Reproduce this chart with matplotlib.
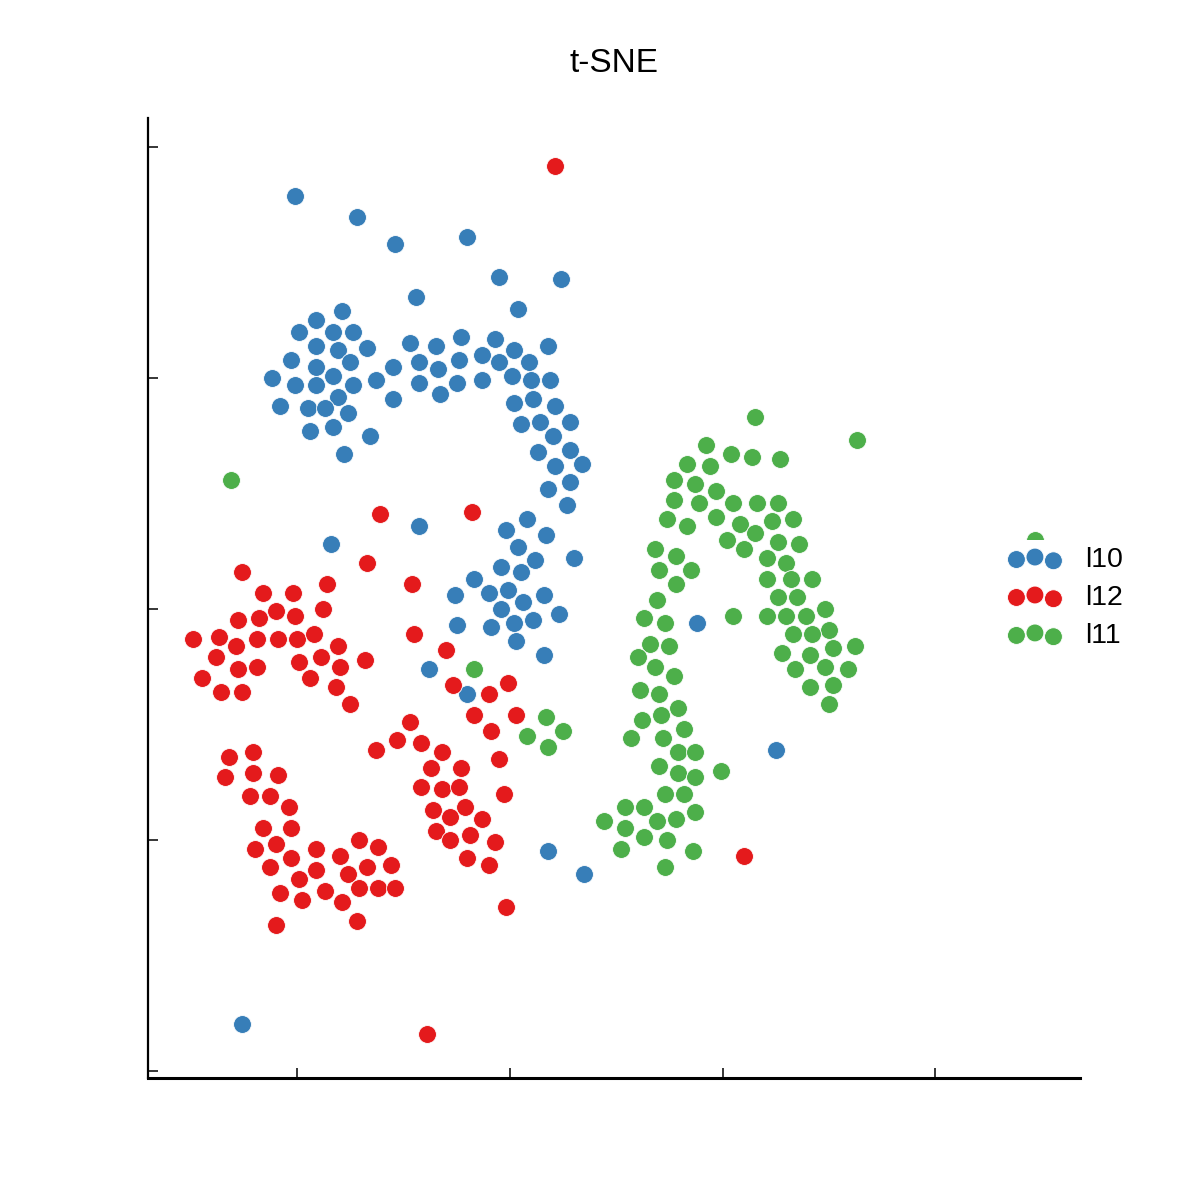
import matplotlib
matplotlib.use("Agg")
import matplotlib.pyplot as plt

# t-SNE embedding coordinates, one group per cluster label
l10_x = [-10.1, -7.2, -5.4, -2.0, -0.5, 2.4, -4.4, 0.4, -7.9, -9.1, -9.9, -8.3, -7.4, -9.1, -8.1,
         -6.7, -10.3, -9.1, -7.5, -5.5, -11.2, -10.1, -9.1, -8.3, -7.4, -6.3, -5.5, -8.1, -10.8, -9.5,
         -8.7, -7.6, -9.4, -8.3, -6.6, -7.8, -4.7, -3.5, -2.3, -0.7, 1.8, -4.3, -3.4, -2.4, -1.3,
         -0.5, 0.2, 0.9, -4.3, -3.3, -2.5, -1.3, 0.1, 1.0, 1.9, 0.2, 1.1, 2.1, 0.5, 1.4,
         2.8, 2.0, 1.3, 2.8, 2.1, 3.4, 2.8, 1.8, 2.7, -4.3, 0.8, -0.2, 1.7, 0.4, 3.0,
         1.2, -0.4, 0.5, -1.7, -2.6, -1.0, -0.1, 0.6, 1.6, -0.4, 2.3, -2.5, -0.9, 0.2, 1.1,
         0.3, 1.6, -3.8, -2.0, -8.4, 8.8, 12.5, 1.8, 3.5, -12.6]
l10_y = [17.9, 17.0, 15.8, 16.1, 14.4, 14.3, 13.5, 13.0, 12.9, 12.5, 12.0, 12.0, 12.0, 11.4, 11.2,
         11.3, 10.8, 10.5, 10.7, 10.5, 10.0, 9.7, 9.7, 10.1, 9.7, 9.9, 9.1, 9.2, 8.8, 8.7,
         8.7, 8.5, 7.7, 7.9, 7.5, 6.7, 11.5, 11.4, 11.8, 11.7, 11.4, 10.7, 10.4, 10.8, 11.0,
         10.7, 11.2, 10.7, 9.8, 9.3, 9.8, 9.9, 10.1, 9.9, 9.9, 8.9, 9.1, 8.8, 8.0, 8.1,
         8.1, 7.5, 6.8, 6.9, 6.2, 6.3, 5.5, 5.2, 4.5, 3.6, 3.9, 3.4, 3.2, 2.7, 2.2,
         2.1, 1.8, 1.6, 1.3, 0.6, 0.7, 0.8, 0.3, 0.6, 0.0, -0.2, -0.7, -0.8, -0.6, -0.5,
         -1.4, -2.0, -2.6, -3.7, 2.8, -0.6, -6.1, -10.5, -11.5, -18.0]

l12_x = [2.1, -6.1, -1.8, -6.7, -12.6, -8.6, -4.6, -11.6, -10.2, -8.8, -11.0, -10.1, -11.8, -12.8, -14.9,
         -13.7, -12.9, -11.9, -10.9, -10.0, -9.2, -8.1, -13.8, -12.8, -11.9, -9.9, -8.9, -8.0, -6.8, -14.5,
         -9.4, -13.6, -12.6, -8.2, -7.5, -4.5, -3.0, -2.7, -0.1, -1.0, -1.7, 0.3, -0.9, -4.7, -5.3,
         -6.3, -4.2, -3.2, -0.5, -3.7, -2.3, -4.2, -3.2, -2.4, -0.3, -3.6, -2.1, -2.8, -1.3, -3.5,
         -1.9, -2.8, -0.7, -2.0, -1.0, -0.2, 11.0, -3.9,
         -13.2, -12.1, -13.4, -12.1, -10.9, -12.2, -11.3, -10.4, -11.6, -10.3, -12.0, -11.0, -11.3, -10.3, -9.1,
         -9.1, -9.9, -10.8, -9.8, -8.0, -7.1, -6.2, -7.6, -6.7, -5.6, -8.7, -7.1, -6.2, -5.4, -7.9,
         -7.2, -11.0]
l12_y = [19.2, 4.1, 4.2, 2.0, 1.6, 1.1, 1.1, 0.7, 0.7, 0.0, -0.1, -0.3, -0.4, -0.5, -1.3,
         -1.2, -1.6, -1.3, -1.3, -1.3, -1.1, -1.6, -2.1, -2.6, -2.5, -2.3, -2.1, -2.5, -2.2, -3.0,
         -3.0, -3.6, -3.6, -3.4, -4.1, -1.1, -1.8, -3.3, -3.2, -3.7, -4.6, -4.6, -5.3, -4.9, -5.7,
         -6.1, -5.8, -6.2, -6.5, -6.9, -6.9, -7.7, -7.8, -7.7, -8.0, -8.7, -8.6, -9.0, -9.1, -9.6,
         -9.8, -10.0, -10.1, -10.8, -11.1, -12.9, -10.7, -18.4,
         -6.4, -6.2, -7.3, -7.1, -7.2, -8.1, -8.1, -8.6, -9.5, -9.5, -10.4, -10.2, -11.2, -10.8, -10.4,
         -11.3, -11.7, -12.3, -12.6, -10.7, -10.0, -10.3, -11.5, -11.2, -11.1, -12.2, -12.1, -12.1, -12.1, -12.7,
         -13.5, -13.7]

l11_x = [-13.1, -1.7, 1.7, 0.8, 2.5, 1.8, 24.7, 11.5, 16.3, 9.2, 10.4, 11.4, 12.7, 8.3, 9.4,
         7.7, 8.7, 9.7, 7.7, 8.9, 10.5, 11.6, 12.6, 7.4, 8.3, 9.7, 10.8, 11.5, 12.3, 13.3,
         10.2, 11.0, 12.6, 13.6, 6.8, 7.8, 12.1, 13.0, 7.0, 8.5, 7.8, 12.1, 13.2, 14.2, 6.9,
         12.6, 13.5, 14.8, 6.3, 7.3, 10.5, 12.1, 13.0, 13.9, 15.0, 13.3, 14.2, 6.6, 7.5, 6.0,
         12.8, 14.1, 15.2, 16.2, 6.8, 7.7, 13.4, 14.8, 15.9, 6.1, 7.0, 14.1, 15.2, 15.0, 7.9,
         7.1, 6.2, 5.7, 7.2, 8.2, 7.9, 8.7, 7.0, 7.9, 8.7, 9.9, 7.3, 8.2, 5.4, 6.3,
         4.4, 6.9, 7.8, 8.7, 5.4, 6.3, 7.4, 5.2, 8.6, 7.3]
l11_y = [5.6, -2.6, -4.7, -5.5, -5.3, -6.0, 3.0, 8.3, 7.3, 7.1, 6.7, 6.6, 6.5, 6.3, 6.2,
         5.6, 5.4, 5.1, 4.7, 4.6, 4.6, 4.6, 4.6, 3.9, 3.6, 4.0, 3.7, 3.3, 3.8, 3.9,
         3.0, 2.6, 2.9, 2.8, 2.6, 2.3, 2.2, 2.0, 1.7, 1.7, 1.1, 1.3, 1.3, 1.3, 0.4,
         0.5, 0.5, 0.0, -0.4, -0.6, -0.3, -0.3, -0.3, -0.3, -0.9, -1.1, -1.1, -1.5, -1.6, -2.1,
         -1.9, -2.0, -1.7, -1.6, -2.5, -2.9, -2.6, -2.5, -2.6, -3.5, -3.7, -3.4, -3.3, -4.1, -4.3,
         -4.6, -4.8, -5.6, -5.6, -5.2, -6.2, -6.2, -6.8, -7.1, -7.3, -7.0, -8.0, -8.0, -8.6, -8.6,
         -9.2, -9.2, -9.1, -8.8, -9.5, -9.9, -10.0, -10.4, -10.5, -11.2]

labels = ["l10", "l12", "l11"]
colors = ["#377eb8", "#e41a1c", "#4daf4a"]
xs = [l10_x, l12_x, l11_x]
ys = [l10_y, l12_y, l11_y]

plt.rcParams["font.family"] = ["Liberation Sans", "DejaVu Sans"]

fig = plt.figure(figsize=(12, 12), dpi=100)
ax = fig.add_axes([0.1233, 0.1017, 0.7767, 0.8])

for x, y, c, lab in zip(xs, ys, colors, labels):
    ax.scatter(x, y, s=165, color=c, edgecolors="white", linewidths=0.6, label=lab, zorder=2)

ax.set_xlim(-17.02, 26.8)
ax.set_ylim(-20.32, 21.27)
ax.set_xticks([-10, 0, 10, 20])
ax.set_yticks([-20, -10, 0, 10, 20])
ax.set_xticklabels([])
ax.set_yticklabels([])
ax.tick_params(direction="in", length=7.5, width=1.1)

for side in ["top", "right"]:
    ax.spines[side].set_visible(False)
ax.spines["left"].set_linewidth(1.6)
ax.spines["bottom"].set_linewidth(2.2)

ax.set_title("t-SNE", fontsize=24, pad=33)

leg = ax.legend(loc="center left", bbox_to_anchor=(0.915, 0.5), scatterpoints=3,
                fontsize=20.5, frameon=True, framealpha=1, edgecolor="none",
                handlelength=1.9, handletextpad=0.8, labelspacing=0.42,
                borderpad=0.25, borderaxespad=0)
leg.set_zorder(5)

fig.savefig("out.png", dpi=100)
